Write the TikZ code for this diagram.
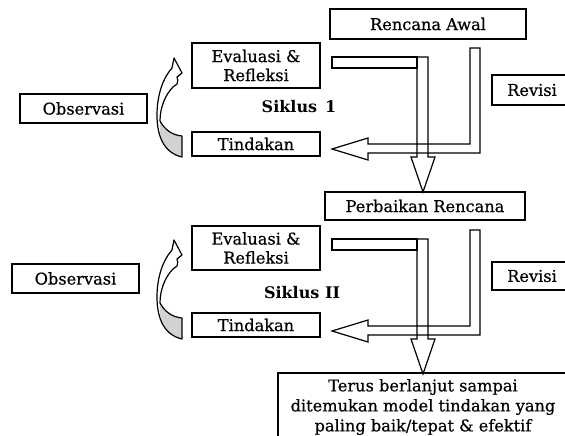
\documentclass[tikz,border=0pt]{standalone}
\usepackage{fontspec}
\setmainfont{DejaVu Serif}
\newfontfamily\boxfont[FakeBold=0.5]{DejaVu Serif}
\begin{document}
\begin{tikzpicture}[x=1pt,y=-1pt,
  txt/.style={font=\boxfont\fontsize{16.2}{19}\selectfont},
  box/.style={txt, draw, line width=1.2pt, inner sep=0pt, align=center},
  fat/.style={draw, line width=1.2pt, line join=miter},
  lbl/.style={font=\bfseries\fontsize{16}{19}\selectfont}]
\clip (0,0) rectangle (565,436);

% boxes of the first cycle
\node[box, minimum width=196pt, minimum height=30pt] (rencana) at (428,24) {Rencana Awal};
\node[box, minimum width=128pt, minimum height=45pt] (eval1) at (256,65.5) {Evaluasi \&\\Refleksi};
\node[box, minimum width=128pt, minimum height=24pt] (tind1) at (256,144) {Tindakan};
\node[box, minimum width=80pt, minimum height=30pt] (rev1) at (532,90) {Revisi};
\node[box, minimum width=127pt, minimum height=29pt] (obs1) at (83.5,108.5) {Observasi};
\node[lbl] (sik1) at (299,107) {Siklus\hspace{0.5em}1};

% boxes of the second cycle
\node[box, minimum width=200pt, minimum height=28pt] (perb) at (425,206) {Perbaikan Rencana};
\node[box, minimum width=128pt, minimum height=44pt] (eval2) at (256,248) {Evaluasi \&\\Refleksi};
\node[box, minimum width=128pt, minimum height=24pt] (tind2) at (256,325) {Tindakan};
\node[box, minimum width=80pt, minimum height=28pt] (rev2) at (532,276) {Revisi};
\node[box, minimum width=127pt, minimum height=29pt] (obs2) at (75.5,278.5) {Observasi};
\node[lbl] (sik2) at (302,293) {Siklus II};

% closing box
\node[box, minimum width=290pt, minimum height=68pt, font=\boxfont\fontsize{16.2}{20}\selectfont] (akhir) at (423,407)
  {Terus berlanjut sampai\\ditemukan model tindakan yang\\paling baik/tepat \& efektif};

% block arrows and curved arrows, repeated for both cycles
\foreach \dy in {0,182}{
\begin{scope}[shift={(0,\dy)}]
  % bar leaving the evaluation box
  \draw[fat] (332,57) rectangle (417,68);
  % downward block arrow
  \draw[fat] (417,57) -- (428,57) -- (428,157) -- (435,157) -- (423,192)
    -- (411,157) -- (417,157) -- cycle;
  % L-shaped block arrow back to the action box
  \draw[fat] (470,48) -- (480,48) -- (480,153) -- (368,153) -- (368,160)
    -- (332,149) -- (368,138) -- (368,144) -- (470,144) -- cycle;
  % curved arrow from action to evaluation: shaded underside
  \fill[gray!35] (182,136) .. controls (172,135) and (165,130) .. (160,121)
    .. controls (158,138) and (165,153) .. (182,157) -- cycle;
  % outline of the curved arrow
  \draw[fat, line join=round] (182,157) .. controls (165,153) and (157,138) .. (157,115)
    .. controls (157,95) and (163,78) .. (172,68) -- (174,58) -- (182,73) -- (177,77)
    .. controls (178,80) .. (177,84) -- (173,87)
    .. controls (165,95) and (160,108) .. (160,121)
    .. controls (165,130) and (172,135) .. (182,136) -- cycle;
\end{scope}}
\end{tikzpicture}
\end{document}
